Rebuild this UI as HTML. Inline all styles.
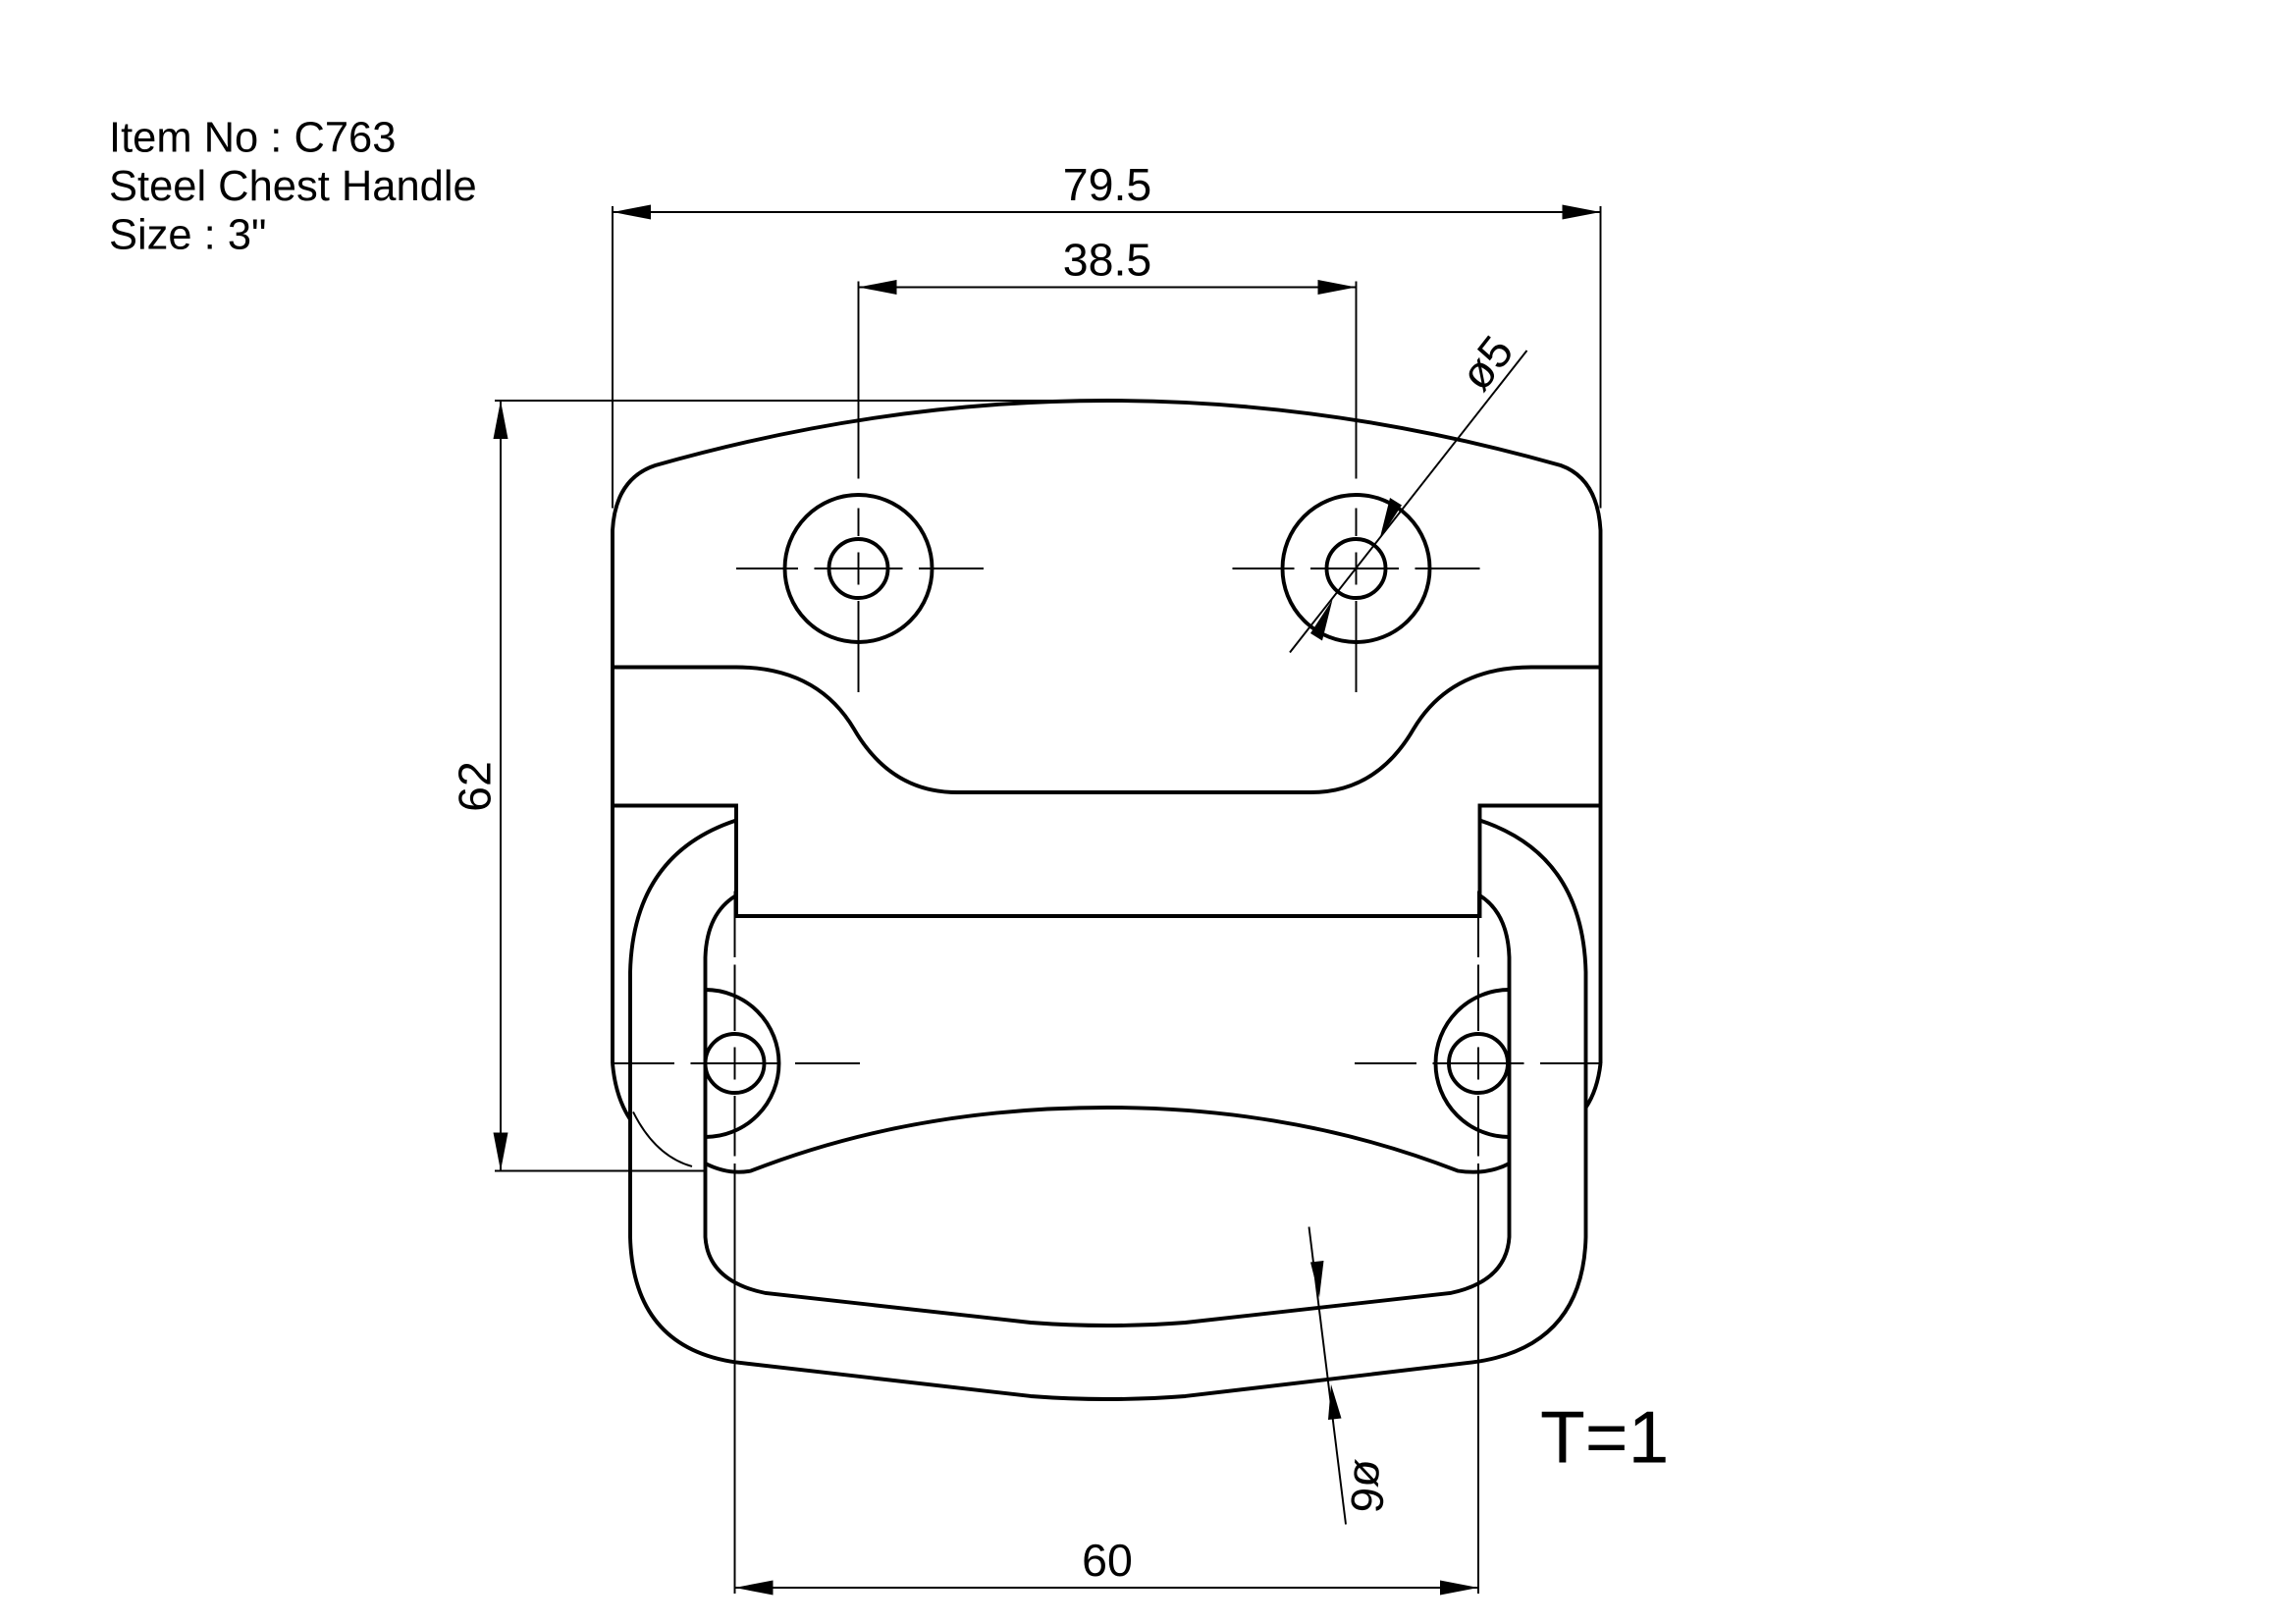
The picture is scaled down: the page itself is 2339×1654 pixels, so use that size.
<!DOCTYPE html>
<html><head><meta charset="utf-8"><style>
html,body{margin:0;padding:0;background:#fff;}
svg{display:block;}
text{font-family:"Liberation Sans",sans-serif;fill:#000;}
</style></head><body>
<svg width="2339" height="1654" viewBox="0 0 1559.33 1102.67" xmlns="http://www.w3.org/2000/svg">
<rect width="1559.33" height="1102.67" fill="#fff"/>
<g font-size="29">
<text x="74" y="103">Item No : C763</text>
<text x="74" y="136">Steel Chest Handle</text>
<text x="74" y="169">Size : 3"</text>
</g>
<g stroke="#000" stroke-width="1.3" fill="none">
<line x1="416" y1="144" x2="1087" y2="144"/>
<line x1="416" y1="140" x2="416" y2="345"/>
<line x1="1087" y1="140" x2="1087" y2="345"/>
<line x1="583" y1="195" x2="921" y2="195"/>
<line x1="583" y1="191" x2="583" y2="325"/>
<line x1="921" y1="191" x2="921" y2="325"/>
<line x1="340" y1="272" x2="340" y2="795"/>
<line x1="336" y1="272" x2="740" y2="272"/>
<line x1="336" y1="795" x2="478" y2="795"/>
<line x1="499" y1="1078" x2="1004" y2="1078"/>
<line x1="499" y1="790" x2="499" y2="1082"/>
<line x1="1004" y1="790" x2="1004" y2="1082"/>
<line x1="876" y1="443" x2="1037" y2="238"/>
<line x1="889" y1="833" x2="914" y2="1035"/>
<path d="M500 386H542M553 386H613M624 386H668M583 345V364M583 375V397M583 408V470"/>
<path d="M837 386H879M890 386H950M961 386H1005M921 345V364M921 375V397M921 408V470"/>
<path d="M416 722H458M469 722H529M540 722H584M499 655V700M499 711V733M499 744V785"/>
<path d="M920 722H962M973 722H1035M1046 722H1088M1004 655V700M1004 711V733M1004 744V785"/>
<path d="M499 605V650M1004 605V650"/>
<path d="M430 755Q445 785 470 792"/>
</g>
<g fill="#000">
<polygon points="416,144 442,139 442,149"/>
<polygon points="1087,144 1061,139 1061,149"/>
<polygon points="583,195 609,190 609,200"/>
<polygon points="921,195 895,190 895,200"/>
<polygon points="340,272 335,298 345,298"/>
<polygon points="340,795 335,769 345,769"/>
<polygon points="499,1078 525,1073 525,1083"/>
<polygon points="1004,1078 978,1073 978,1083"/>
<polygon points="937,366 952,343 944,338"/>
<polygon points="905,407 890,430 898,435"/>
<polygon points="896,881 890,857 899,856"/>
<polygon points="904,940 902,964 911,963"/>
</g>
<g stroke="#000" stroke-width="2.6" fill="none">
<path d="M416 722V360Q418 325 445 316Q600 272 752 272Q905 272 1060 316Q1085 325 1087 360V722"/>
<path d="M1087 722Q1085 740 1077 752"/>
<path d="M416 722Q418 745 428 760"/>
<path d="M416 453H500Q555 453 580 495Q605 538 650 538H890Q935 538 960 495Q985 453 1040 453H1087"/>
<path d="M416 547H500V622H1005V547H1087"/>
<circle cx="583" cy="386" r="50"/><circle cx="583" cy="386" r="20"/>
<circle cx="921" cy="386" r="50"/><circle cx="921" cy="386" r="20"/>
<path d="M479 672A50 50 0 1 1 479 772"/>
<circle cx="499" cy="722" r="20"/>
<path d="M1025 672A50 50 0 1 0 1025 772"/>
<circle cx="1004" cy="722" r="20"/>
<path d="M479 790Q495 798 510 795Q620 752 752 752Q880 752 990 795Q1010 798 1025 790"/>
<path d="M500 557Q430 580 428 660V840Q430 915 500 925L700 948Q752 952 805 948L1000 925Q1075 915 1077 840V660Q1075 580 1005 557"/>
<path d="M500 608Q480 620 479 650V840Q481 870 520 878L700 898Q752 902 805 898L985 878Q1023 870 1025 840V650Q1024 620 1005 608"/>
</g>
<g font-size="31">
<text x="752" y="136" text-anchor="middle">79.5</text>
<text x="752" y="187" text-anchor="middle">38.5</text>
<text x="752" y="1070" text-anchor="middle">60</text>
<text transform="translate(333,534) rotate(-90)" text-anchor="middle">62</text>
<text transform="translate(1018,253) rotate(-52)" text-anchor="middle">ø5</text>
<text transform="translate(919,1008) rotate(96)" text-anchor="middle">ø6</text>
</g>
<text x="1046" y="993" font-size="50">T=1</text>
</svg>
</body></html>
